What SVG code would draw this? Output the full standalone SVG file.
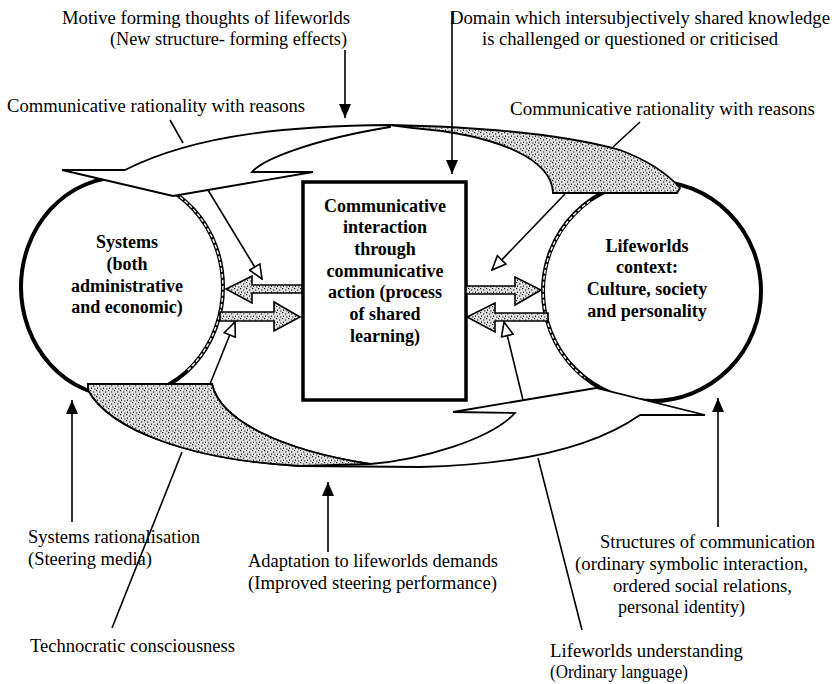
<svg xmlns="http://www.w3.org/2000/svg" width="837" height="684" viewBox="0 0 837 684">
<style>
.t{font-family:"Liberation Serif","Times New Roman",serif;font-size:18px;fill:#000}
.b{font-weight:bold}
.ln{stroke:#000;stroke-width:1.6;fill:none}
.sh{stroke:#000;stroke-width:1.8;fill:#fff;stroke-linejoin:miter}
.gr{stroke:#000;stroke-width:1.8;fill:url(#stip)}
.circ{stroke:#000;stroke-width:4;fill:#fff}
.hol{stroke:#fff;stroke-width:1.4;fill:none;stroke-dasharray:4 2}
.blk{stroke:#000;stroke-width:1.6;fill:url(#stip);stroke-linejoin:miter}
</style>
<defs>
<pattern id="stip" width="6" height="6" patternUnits="userSpaceOnUse">
<rect width="6" height="6" fill="#e2e2e2"/>
<rect x="0" y="0" width="1.2" height="1.2" fill="#000"/>
<rect x="3" y="1.5" width="1.3" height="1" fill="#000"/>
<rect x="1" y="3.5" width="1" height="1.3" fill="#000"/>
<rect x="4.2" y="4.5" width="1.2" height="1" fill="#000"/>
</pattern>
<marker id="hf" viewBox="0 0 14 12" refX="14" refY="6" markerWidth="14" markerHeight="12" markerUnits="userSpaceOnUse" orient="auto">
<path d="M0,0 L14,6 L0,12 Z" fill="#000"/>
</marker>
<marker id="ho" viewBox="-1 -1 16 14" refX="14" refY="6" markerWidth="16" markerHeight="14" markerUnits="userSpaceOnUse" orient="auto">
<path d="M0,0 L14,6 L0,12 Z" fill="#fff" stroke="#000" stroke-width="1.6"/>
</marker>
</defs>

<g id="systems">
<ellipse class="circ" cx="122" cy="287" rx="101" ry="110"/>
<path class="hol" d="M180,197 A101,110 0 0,1 187,371"/>
<text class="t b" text-anchor="middle" x="127" y="248">Systems</text>
<text class="t b" text-anchor="middle" x="127" y="270">(both</text>
<text class="t b" text-anchor="middle" x="127" y="292">administrative</text>
<text class="t b" text-anchor="middle" x="127" y="313">and economic)</text>
</g>

<g id="lifeworlds">
<ellipse class="circ" cx="652" cy="291" rx="109" ry="110"/>
<path class="hol" d="M590,201 A109,110 0 0,0 585,378"/>
<text class="t b" text-anchor="middle" x="647" y="252">Lifeworlds</text>
<text class="t b" text-anchor="middle" x="647" y="273">context:</text>
<text class="t b" text-anchor="middle" x="647" y="295">Culture, society</text>
<text class="t b" text-anchor="middle" x="647" y="317">and personality</text>
</g>

<g id="top-flow">
<path class="sh" d="M390,125 C300,126 200,132 125,170 L62,170 L173,196 L313,172 L252,172 C262,160 310,140 390,127 Z"/>
<path class="gr" d="M390,125 Q540,128 620,150 Q660,165 680,188 L677,193 L553,193 C552,160 500,135 413,128 Z"/>
</g>

<g id="bottom-flow">
<path class="sh" d="M88,384 L212,384 C220,420 280,450 370,464 C420,460 490,440 515,413 L453,412 L596,388 L705,415 L640,415 C590,450 510,465 420,467 L300,466 C190,460 110,430 88,390 Z"/>
<path class="gr" d="M88,384 L212,384 C220,420 280,450 370,464 L300,466 C190,460 110,430 88,390 Z"/>
</g>

<g id="interaction">
<rect x="303" y="182" width="163" height="218" fill="#fff" stroke="#000" stroke-width="3.5"/>
<text class="t b" text-anchor="middle" x="385" y="212">Communicative</text>
<text class="t b" text-anchor="middle" x="385" y="233">interaction</text>
<text class="t b" text-anchor="middle" x="385" y="255">through</text>
<text class="t b" text-anchor="middle" x="385" y="277">communicative</text>
<text class="t b" text-anchor="middle" x="385" y="298">action (process</text>
<text class="t b" text-anchor="middle" x="385" y="320">of shared</text>
<text class="t b" text-anchor="middle" x="385" y="342">learning)</text>
</g>

<g id="connectors">
<polygon class="blk" points="302,285 252,285 252,276 226,289 252,303 252,293 302,293"/>
<polygon class="blk" points="220,312 274,312 274,302 300,317 274,331 274,321 220,321"/>
<polygon class="blk" points="466,286 515,286 515,277 541,290 515,305 515,294 466,294"/>
<polygon class="blk" points="548,313 495,313 495,303 467,317 495,332 495,321 548,321"/>

<line class="ln" x1="208" y1="190" x2="262" y2="279" marker-end="url(#ho)"/>
<line class="ln" x1="210" y1="384" x2="235" y2="322" marker-end="url(#ho)"/>
<line class="ln" x1="565" y1="194" x2="492" y2="270" marker-end="url(#ho)"/>
<line class="ln" x1="523" y1="400" x2="504" y2="322" marker-end="url(#ho)"/>

<line class="ln" x1="345" y1="50" x2="345" y2="118" marker-end="url(#hf)"/>
<line class="ln" x1="452" y1="12" x2="452" y2="174" marker-end="url(#hf)"/>
<line class="ln" x1="72" y1="522" x2="72" y2="400" marker-end="url(#hf)"/>
<line class="ln" x1="328" y1="552" x2="328" y2="482" marker-end="url(#hf)"/>
<line class="ln" x1="718" y1="527" x2="718" y2="398" marker-end="url(#hf)"/>

<line class="ln" x1="170" y1="120" x2="183" y2="143"/>
<line class="ln" x1="640" y1="122" x2="613" y2="147"/>
<line class="ln" x1="112" y1="628" x2="182" y2="452"/>
<line class="ln" x1="582" y1="630" x2="538" y2="458"/>
</g>

<g id="labels">
<text class="t" x="62" y="24" textLength="288" lengthAdjust="spacingAndGlyphs">Motive forming thoughts of lifeworlds</text>
<text class="t" x="110" y="45" textLength="237" lengthAdjust="spacingAndGlyphs">(New structure- forming effects)</text>
<text class="t" x="7" y="112" textLength="298" lengthAdjust="spacingAndGlyphs">Communicative rationality with reasons</text>
<text class="t" x="450" y="24" textLength="380" lengthAdjust="spacingAndGlyphs">Domain which intersubjectively shared knowledge</text>
<text class="t" x="482" y="45" textLength="296" lengthAdjust="spacingAndGlyphs">is challenged or questioned or criticised</text>
<text class="t" x="510" y="115" textLength="305" lengthAdjust="spacingAndGlyphs">Communicative rationality with reasons</text>
<text class="t" x="28" y="543" textLength="172" lengthAdjust="spacingAndGlyphs">Systems rationalisation</text>
<text class="t" x="28" y="565" textLength="124" lengthAdjust="spacingAndGlyphs">(Steering media)</text>
<text class="t" x="30" y="652" textLength="205" lengthAdjust="spacingAndGlyphs">Technocratic consciousness</text>
<text class="t" x="248" y="567" textLength="250" lengthAdjust="spacingAndGlyphs">Adaptation to lifeworlds demands</text>
<text class="t" x="248" y="589" textLength="249" lengthAdjust="spacingAndGlyphs">(Improved steering performance)</text>
<text class="t" x="600" y="548" textLength="215" lengthAdjust="spacingAndGlyphs">Structures of communication</text>
<text class="t" x="575" y="570" textLength="233" lengthAdjust="spacingAndGlyphs">(ordinary symbolic interaction,</text>
<text class="t" x="613" y="592" textLength="179" lengthAdjust="spacingAndGlyphs">ordered social relations,</text>
<text class="t" x="618" y="613" textLength="127" lengthAdjust="spacingAndGlyphs">personal identity)</text>
<text class="t" x="550" y="657" textLength="193" lengthAdjust="spacingAndGlyphs">Lifeworlds understanding</text>
<text class="t" x="550" y="678" textLength="138" lengthAdjust="spacingAndGlyphs">(Ordinary language)</text>
</g>
</svg>
